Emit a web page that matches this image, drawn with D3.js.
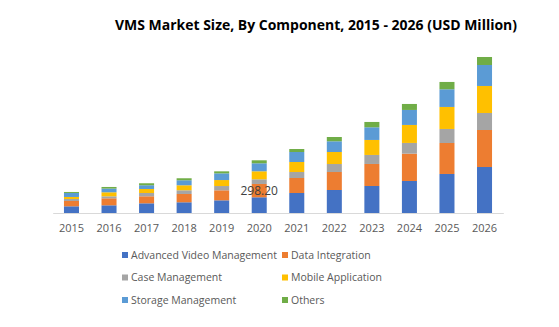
<!DOCTYPE html>
<html>
<head>
<meta charset="utf-8">
<script src="https://cdn.jsdelivr.net/npm/d3@7"></script>
<style>
  body { margin: 0; background: #fff; }
  svg { display: block; font-family: "Open Sans", sans-serif; }
</style>
</head>
<body>
<div class="Canvas"></div>
<script>
// years along the x axis
let years = ['2015', '2016', '2017', '2018', '2019', '2020', '2021', '2022', '2023', '2024', '2025', '2026'];

// USD million per component, one array per series
let advancedVideo = [150, 172, 217, 240, 284, 352, 448, 515, 605, 717, 874, 1030];
let dataIntegration = [119, 157, 157, 186, 224, 298.2, 336, 403, 493, 612, 694, 829];
let caseManagement = [45, 45, 74, 83, 96, 105, 134, 179, 202, 240, 314, 381];
let mobileApp = [45, 90, 90, 112, 134, 179, 224, 269, 336, 403, 493, 605];
let storageManagement = [90, 83, 83, 112, 150, 179, 224, 240, 284, 336, 396, 470];
let others = [22, 36, 45, 45, 45, 67, 67, 96, 119, 134, 164, 179];

let seriesNames = ['Advanced Video Management', 'Data Integration', 'Case Management', 'Mobile Application', 'Storage Management', 'Others'];
let seriesColors = ['#4472C4', '#ED7D31', '#A5A5A5', '#FFC000', '#5B9BD5', '#70AD47'];
let seriesValues = [advancedVideo, dataIntegration, caseManagement, mobileApp, storageManagement, others];

// one labelled point: Data Integration in 2020
let labelSeries = 1;
let labelYear = '2020';

let width = 559;
let height = 327;

let svg = d3.select('.Canvas').append('svg').attr('width', width).attr('height', height);

let rows = years.map((yr, i) => {
    let row = { year: yr };
    seriesNames.forEach((name, s) => (row[name] = seriesValues[s][i]));
    return row;
});

let stacked = d3.stack().keys(seriesNames)(rows);

let x = d3.scaleBand().domain(years).range([52.7, 503.3]).paddingInner(0.6).paddingOuter(0.3);
let y = d3.scaleLinear().domain([0, 4000]).range([213, 34.4]);

// title
svg.append('text')
    .attr('x', 316)
    .attr('y', 30)
    .attr('text-anchor', 'middle')
    .attr('font-size', '14px')
    .attr('font-weight', 'bold')
    .attr('fill', '#000')
    .attr('textLength', 402)
    .attr('lengthAdjust', 'spacingAndGlyphs')
    .text('VMS Market Size, By Component, 2015 - 2026 (USD Million)');

// bars
let layers = svg.append('g')
    .selectAll('g')
    .data(stacked)
    .enter()
    .append('g')
    .attr('fill', (d, i) => seriesColors[i]);

layers.selectAll('rect')
    .data((d) => d)
    .enter()
    .append('rect')
    .attr('x', (d) => x(d.data.year))
    .attr('width', x.bandwidth())
    .attr('y', (d) => y(d[1]))
    .attr('height', (d) => y(d[0]) - y(d[1]));

// x axis: baseline only, no ticks
let xAxis = svg.append('g')
    .attr('transform', `translate(0, ${y(0)})`)
    .call(d3.axisBottom(x).tickSize(0).tickPadding(11));
xAxis.select('.domain').attr('stroke', '#d9d9d9');
xAxis.selectAll('text')
    .attr('font-family', '"Open Sans", sans-serif')
    .attr('font-size', '11px')
    .attr('fill', '#595959');

// data label
let seg = stacked[labelSeries][years.indexOf(labelYear)];
svg.append('text')
    .attr('x', x(labelYear) + x.bandwidth() / 2)
    .attr('y', (y(seg[0]) + y(seg[1])) / 2)
    .attr('dy', '0.35em')
    .attr('text-anchor', 'middle')
    .attr('font-size', '12px')
    .attr('fill', '#404040')
    .text(d3.format('.2f')(seg[1] - seg[0]));

// legend, two columns
let legend = svg.append('g')
    .selectAll('g')
    .data(seriesNames)
    .enter()
    .append('g')
    .attr('transform', (d, i) => `translate(${i % 2 ? 282 : 122}, ${255 + Math.floor(i / 2) * 22.5})`);

legend.append('rect')
    .attr('x', 0)
    .attr('y', -3)
    .attr('width', 6)
    .attr('height', 6)
    .attr('fill', (d, i) => seriesColors[i]);

legend.append('text')
    .attr('x', 9)
    .attr('dy', '0.35em')
    .attr('font-size', '10.5px')
    .attr('fill', '#595959')
    .text((d) => d);
</script>
</body>
</html>
